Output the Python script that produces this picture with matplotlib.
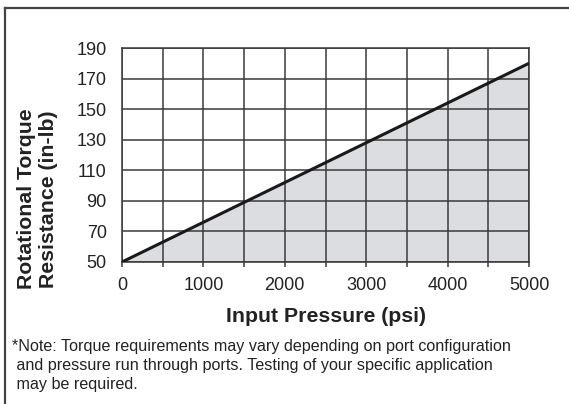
import numpy as np
import matplotlib.pyplot as plt
from matplotlib.lines import Line2D

plt.rcParams['font.family'] = ['Liberation Sans', 'DejaVu Sans']

# data
pressure = [0, 5000]
torque = [50, 180]
x_ticks = [0, 1000, 2000, 3000, 4000, 5000]
y_ticks = [50, 70, 90, 110, 130, 150, 170, 190]

W, H = 569, 404
fig = plt.figure(figsize=(W / 100, H / 100), dpi=100)
ax = fig.add_axes([122 / W, 1 - 262 / H, (529 - 122) / W, (262 - 48) / H])

ax.fill_between(pressure, torque, 50, color='#dcdde0', zorder=1)
ax.plot(pressure, torque, color='#1a1a1a', lw=2.2, zorder=3, solid_capstyle='butt')

ax.set_xlim(0, 5000)
ax.set_ylim(50, 190)
ax.set_xticks(np.arange(0, 5001, 500))
ax.set_xticklabels([str(v) if v in x_ticks else '' for v in range(0, 5001, 500)])
ax.set_yticks(y_ticks)
ax.grid(True, color='#3a3a3a', lw=1.1, zorder=2)
ax.set_axisbelow(False)
for s in ax.spines.values():
    s.set_color('#3a3a3a')
    s.set_linewidth(1.1)
ax.tick_params(axis='x', length=3.5, width=1.1, color='#3a3a3a', labelsize=13, pad=7.5, labelcolor='#222222')
ax.tick_params(axis='y', length=0, labelsize=13, pad=11, labelcolor='#222222')

ax.set_xlabel('Input Pressure (psi)', fontsize=15.3, fontweight='bold', labelpad=9, color='#222222')
fig.text(37.5 / W, 1 - 199 / H, 'Rotational Torque\nResistance (in-lb)', fontsize=15.3,
         fontweight='bold', rotation=90, ha='center', va='center', multialignment='center',
         linespacing=1.22, color='#222222')

fig.text(12 / W, 1 - 339 / H, '*Note: Torque requirements may vary depending on port configuration\n'
         ' and pressure run through ports. Testing of your specific application\n'
         ' may be required.', fontsize=11.6, va='top', ha='left', linespacing=1.33, color='#222222')

# outer frame (top and left edges only visible)
fig.add_artist(Line2D([5 / W, 1.0], [1 - 8 / H, 1 - 8 / H], transform=fig.transFigure,
                      color='#444444', lw=1.6))
fig.add_artist(Line2D([5 / W, 5 / W], [1 - 8 / H, 0.0], transform=fig.transFigure,
                      color='#444444', lw=1.6))

fig.savefig('out.png', dpi=100)
